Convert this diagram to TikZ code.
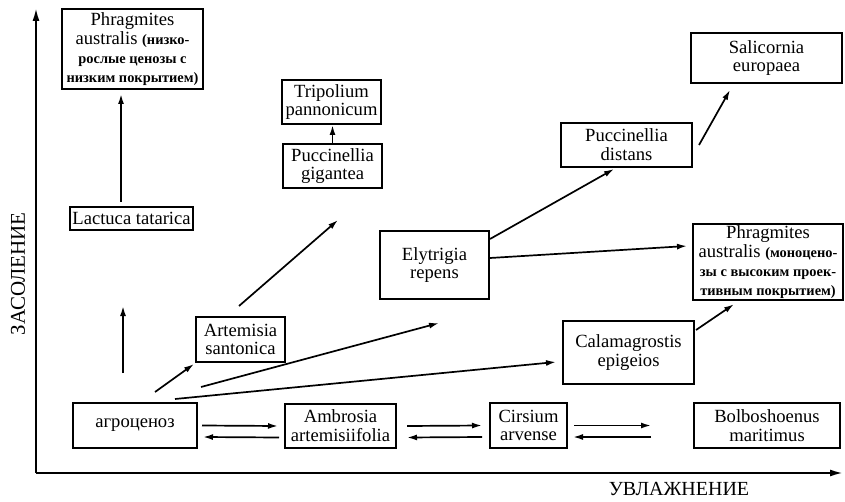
\documentclass[tikz,border=0pt]{standalone}
\usepackage{fontspec}
\setmainfont{Liberation Serif}
\usetikzlibrary{arrows.meta,calc}
\newcommand\rusnote{\fontsize{7.2}{8.2}\selectfont\bfseries}
\tikzset{
  box/.style={draw,line width=1pt,align=center,inner xsep=0.5pt,inner ysep=1pt,
    font=\fontsize{9.3}{9.4}\selectfont},
  arr/.style={line width=0.85pt,-{Latex[length=5pt,width=3pt]}},
  axisarr/.style={line width=1pt,-{Latex[length=6.5pt,width=3.5pt]}},
  axislbl/.style={font=\fontsize{10.5}{11}\selectfont}
}

\begin{document}
\begin{tikzpicture}[x=0.5pt,y=-0.5pt]
\useasboundingbox (0,0) rectangle (845,502);

\coordinate (O) at (36,473);
\coordinate (yTop) at (36,8);
\coordinate (xEnd) at (843,473);
\draw[axisarr] (O) -- (yTop);
\draw[axisarr] (O) -- (xEnd);
\node[axislbl,rotate=90] (salLbl) at (18,274) {ЗАСОЛЕНИЕ};
\node[axislbl,font=\fontsize{10}{11}\selectfont] (wetLbl) at (679,489) {УВЛАЖНЕНИЕ};

\node[box,minimum width=70.5pt,minimum height=40pt] (phrTop) at (132.5,49)
  {Phragmites\\ australis {\rusnote (низко-}\\ {\rusnote рослые ценозы с}\\ {\rusnote низким покрытием)}};
\node[box,minimum width=61.5pt,minimum height=11.5pt] (lactuca) at (131.5,218.5) {Lactuca tatarica};
\node[box,minimum width=49.5pt,minimum height=22pt] (tripol) at (331.5,102) {Tripolium\\ pannonicum};
\node[box,minimum width=49.5pt,minimum height=22pt] (pucGig) at (332.5,166) {Puccinellia\\ gigantea};
\node[box,minimum width=44.5pt,minimum height=22.5pt] (artem) at (240.5,339.5) {Artemisia\\ santonica};
\node[box,minimum width=54.5pt,minimum height=34pt] (elytr) at (434.5,265) {Elytrigia\\ repens};
\node[box,minimum width=65.5pt,minimum height=22pt] (pucDist) at (626.5,145) {Puccinellia\\ distans};
\node[box,minimum width=75.5pt,minimum height=25pt] (salic) at (766.5,58) {Salicornia\\ europaea};
\node[box,minimum width=75pt,minimum height=38pt] (phrMid) at (768,262)
  {Phragmites\\ australis {\rusnote (моноцено-}\\ {\rusnote зы с высоким проек-}\\ {\rusnote тивным покрытием)}};
\node[box,minimum width=65.5pt,minimum height=31.5pt] (calam) at (628.5,352.5) {Calamagrostis\\ epigeios};
\node[box,minimum width=62pt,minimum height=22.5pt] (agro) at (135,425.5) {агроценоз};
\node[box,minimum width=55.5pt,minimum height=22pt] (ambr) at (340.5,426) {Ambrosia\\ artemisiifolia};
\node[box,minimum width=38.5pt,minimum height=22.5pt] (cirs) at (528.5,425.5) {Cirsium\\ arvense};
\node[box,minimum width=73pt,minimum height=22.5pt] (bolbo) at (767,425.5) {Bolboshoenus\\ maritimus};

\coordinate (upFrom) at (123,373);
\coordinate (upTo) at (123,306);
\coordinate (artemTo) at (338,220);
\coordinate (agroTo) at (439,323);
\coordinate (cirsTo) at (651,425.5);
\coordinate (cirsBack) at (651,437);

\draw[arr] ($(lactuca.north)+(-10.5,-4)$) -- ($(phrTop.south)+(-11.5,4)$);
\draw[arr] (upFrom) -- (upTo);
\draw[arr] (pucGig.north) -- (pucGig.north |- tripol.south);
\draw[arr] ($(agro.north)+(20,-10)$) -- ($(artem.south west)+(-1,1)$);
\draw[arr] ($(artem.north)+(-1.5,-10)$) -- (artemTo);
\draw[arr] ($(agro.north)+(66,-15)$) -- (agroTo);
\draw[arr] ($(agro.north)+(40,-3)$) -- ($(calam.west)+(-6,9.5)$);
\draw[arr] ($(elytr.north east)+(0,9)$) -- ($(pucDist.south)+(-12.5,1)$);
\draw[arr] ($(elytr.east)+(0,-7)$) -- ($(phrMid.west)+(-5,-16)$);
\draw[arr] ($(pucDist.east)+(6,0)$) -- ($(salic.south)+(-36.5,6)$);
\draw[arr] ($(calam.north east)+(1,10)$) -- ($(phrMid.south)+(-34,3)$);

\draw[arr] ($(agro.east)+(4,0)$) -- ($(ambr.west)+(-6,0)$);
\draw[arr] ($(ambr.west)+(-5,11.5)$) -- ($(agro.east)+(5,11.5)$);
\draw[arr] ($(ambr.east)+(10,0)$) -- ($(cirs.west)+(-7,0)$);
\draw[arr] ($(cirs.west)+(-7,11.5)$) -- ($(ambr.east)+(10,11.5)$);
\draw[arr] ($(cirs.east)+(6,0)$) -- (cirsTo);
\draw[arr] (cirsBack) -- ($(cirs.east)+(5,11.5)$);

\end{tikzpicture}
\end{document}
